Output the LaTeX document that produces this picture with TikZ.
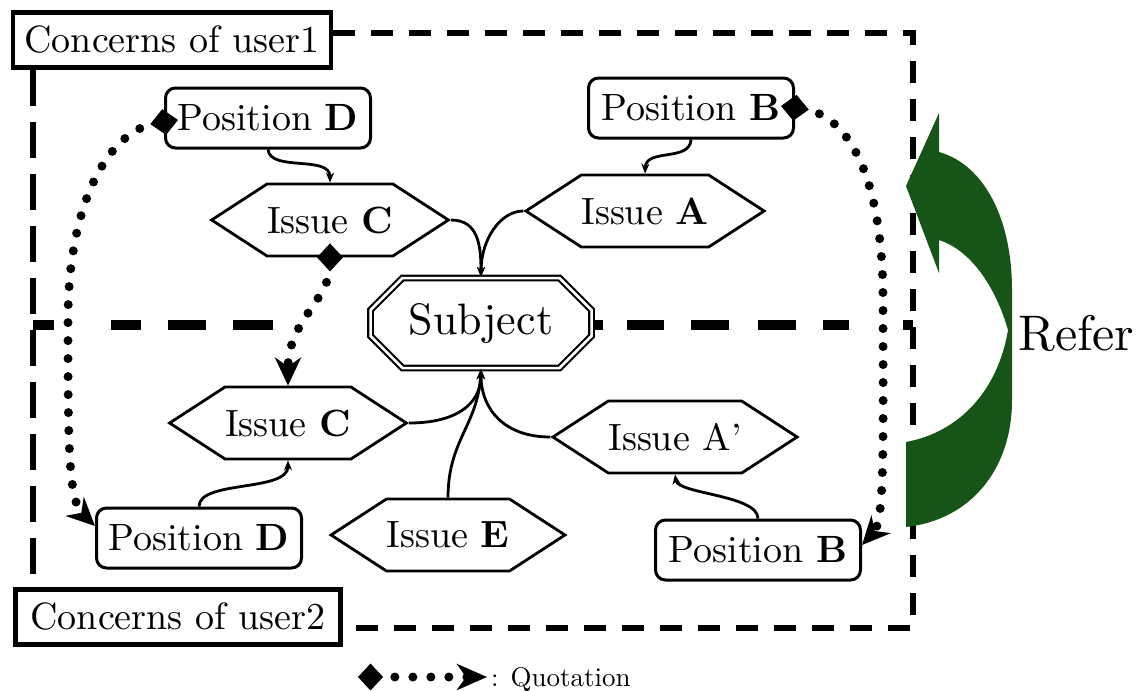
\documentclass[tikz,border=0pt]{standalone}
\usepackage{fontspec}
\setmainfont{lmroman10-regular.otf}[BoldFont=lmroman10-bold.otf]
\usetikzlibrary{shapes.misc,shapes.symbols,arrows.meta,calc}
\definecolor{refgreen}{RGB}{22,84,24}
\begin{document}
\begin{tikzpicture}[x=1pt,y=-1pt,
  boxfont/.style={font=\fontsize{38}{44}\selectfont},
  concern/.style={draw,line width=4.5pt,rectangle,minimum height=55pt,minimum width=318pt,inner sep=0pt,boxfont},
  position/.style={draw,line width=3pt,rounded corners=10pt,minimum width=205pt,minimum height=60pt,inner sep=0pt,boxfont},
  issue/.style={draw,line width=2.8pt,signal,signal to=west and east,signal pointer angle=66,minimum width=232pt,minimum height=72pt,inner sep=0pt,boxfont},
  subjectbox/.style={draw,double,double distance=2.5pt,line width=2.2pt,chamfered rectangle,chamfered rectangle xsep=18pt,chamfered rectangle ysep=14pt,minimum width=221pt,minimum height=90pt,inner sep=0pt,font=\fontsize{44}{50}\selectfont},
  border/.style={line width=5.5pt,dash pattern=on 22pt off 16pt},
  midline/.style={line width=10pt},
  link/.style={line width=2.8pt,-{Stealth[length=10pt,width=8pt]}},
  quote/.style={line width=9pt,line cap=round,dash pattern=on 0pt off 18pt,{Diamond[length=28pt,width=26pt]}-{Stealth[length=28pt,width=26pt,inset=9pt]}},
]
\fill[white] (0,0) rectangle (1141,691);
\useasboundingbox (0,0) rectangle (1141,691);

% nodes
\node[concern] (C1) at (172,40) {Concerns of user1};
\node[concern, minimum width=325pt] (C2) at (178,617) {Concerns of user2};
\node[position] (PD1) at (268,118) {Position \textbf{D}};
\node[position] (PB1) at (691,108) {Position \textbf{B}};
\node[position] (PD2) at (199,538) {Position \textbf{D}};
\node[position] (PB2) at (758,550) {Position \textbf{B}};
\node[issue] (IC1) at (330,220) {Issue \textbf{C}};
\node[issue] (IA1) at (645,211) {Issue \textbf{A}};
\node[issue] (IC2) at (288,423) {Issue \textbf{C}};
\node[issue] (IAp) at (675,437) {Issue A’};
\node[issue] (IE) at (448,535) {Issue \textbf{E}};
\node[subjectbox] (S) at (481,323) {Subject};

% dashed frame
\coordinate (TR) at (913,33);
\coordinate (BR) at (913,628);
\coordinate (LX) at (33,0);
\draw[border] (C1.east |- TR) -- (TR) -- (BR) -- (C2.east |- BR);
\draw[border, dash pattern=on 36pt off 16pt] (C1.south -| LX) -- (C2.north -| LX);

% middle divider
\coordinate (ML) at (33,325);
\coordinate (MR) at (913,325);
\draw[midline, dash pattern=on 21pt off 57pt on 30pt off 27pt on 38pt off 27pt on 40pt off 300pt] (ML) -- (S.west |- ML);
\draw[midline, dash pattern=on 10pt off 24pt on 37pt off 27pt on 38pt off 29pt on 38pt off 27pt on 26pt off 54pt on 11pt off 100pt] (S.east |- MR) -- (MR);

% links
\draw[link] (PD1.south) .. controls (270,172) and (330,155) .. (IC1.north);
\draw[link] (PB1.south) .. controls (690,162) and (646,148) .. (IA1.north);
\draw[link] (IC1.east) .. controls (478,220) and (481,245) .. (S.north);
\draw[link] (IA1.west) .. controls (500,211) and (481,240) .. (S.north);
\draw[link] (IC2.east) .. controls (455,423) and (481,405) .. (S.south);
\draw[link] (IE.north) .. controls (448,440) and (478,425) .. (S.south);
\draw[link] (IAp.west) .. controls (505,437) and (481,410) .. (S.south);
\draw[link] (PD2.north) .. controls (199,480) and (288,492) .. (IC2.south);
\draw[link] (PB2.north) .. controls (758,495) and (678,494) .. (IAp.south);

% quotations
\draw[quote] ($(PD1.west)+(14,2)$) .. controls (110,130) and (68,200) .. (68,320) .. controls (68,440) and (68,500) .. ($(PD2.west)+(0,-12)$);
\draw[quote] ($(PB1.east)+(-14,-2)$) .. controls (850,115) and (883,180) .. (883,300) .. controls (883,440) and (885,520) .. ($(PB2.east)+(0,-5)$);
\draw[quote] ($(IC1.south)+(0,-14)$) .. controls (330,300) and (288,320) .. (IC2.north);

% refer arrow
\fill[refgreen] (939,152) .. controls (985,165) and (1012,220) .. (1012,290) -- (1012,400)
  .. controls (1012,470) and (970,520) .. (906,527) -- (906,442)
  .. controls (960,432) and (998,390) .. (1008,330)
  .. controls (995,285) and (970,250) .. (939,240) -- (939,273) -- (906,186) -- (939,113) -- cycle;
\node[font=\fontsize{50}{56}\selectfont, anchor=base west, inner sep=0pt] (refer) at (1018,350) {Refer};

% legend
\coordinate (QA) at (358,677);
\coordinate (QB) at (487,677);
\draw[quote, {Diamond[length=25pt,width=27pt]}-{Stealth[length=30pt,width=26pt,inset=9pt]}] (QA) -- (QB);
\node[anchor=base west, inner sep=0pt, font=\fontsize{27}{30}\selectfont] (qt) at (491,686) {: Quotation};
\end{tikzpicture}
\end{document}
